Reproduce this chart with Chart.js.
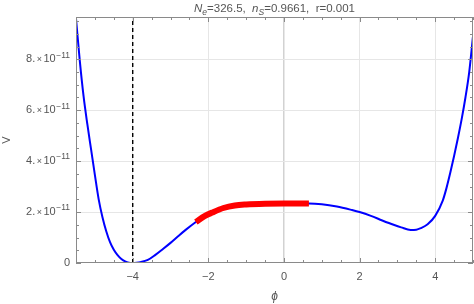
<!DOCTYPE html>
<html>
<head>
<meta charset="utf-8">
<script src="https://cdn.jsdelivr.net/npm/chart.js@4"></script>
<style>
  html, body { margin: 0; padding: 0; background: #fff; }
  #wrap { width: 474px; height: 304px; }
</style>
</head>
<body>
<div id="wrap"><canvas id="c"></canvas></div>
<script>
// ─── DATA (V in units of 1e-11) ─────────────────────────────────────────
const phi = [-5.5, -5.4, -5.3, -5.2, -5.1, -5.0, -4.9, -4.8, -4.7, -4.6, -4.5, -4.4, -4.3, -4.2, -4.1, -4.0,
             -3.9, -3.8, -3.6, -3.4, -3.2, -3.0, -2.8, -2.6, -2.33, -2.1, -1.9, -1.6, -1.3, -1.0, -0.5, 0, 0.66,
             1.0, 1.4, 1.8, 2.0, 2.3, 2.6, 2.9, 3.1, 3.35, 3.5, 3.62, 3.8, 4.0, 4.2, 4.3, 4.4, 4.5, 4.6, 4.7,
             4.8, 4.9, 5.0];
const pot = [9.6, 7.95, 6.55, 5.45, 4.45, 3.45, 2.5, 1.8, 1.25, 0.82, 0.52, 0.31, 0.16, 0.06, 0.01, 0,
             0.008, 0.03, 0.12, 0.32, 0.55, 0.79, 1.05, 1.3, 1.61, 1.84, 1.98, 2.16, 2.26, 2.30, 2.33, 2.34, 2.34,
             2.31, 2.22, 2.08, 2.0, 1.85, 1.67, 1.5, 1.4, 1.3, 1.31, 1.37, 1.52, 1.85, 2.45, 2.95, 3.55, 4.2, 4.9, 5.65,
             6.5, 7.5, 8.9];

// inflationary stretch (red)
const phiInfl = [-2.33, -2.1, -1.9, -1.6, -1.3, -1.0, -0.5, 0, 0.66];
const potInfl = [1.61, 1.84, 1.98, 2.16, 2.26, 2.30, 2.33, 2.34, 2.34];

// vacuum marker (dashed)
const phiVac = [-4, -4];
const potVac = [0, 9.66];

const xRange = [-5.5, 5];
const yRange = [0, 9.66];
const xMajor = [-4, -2, 0, 2, 4];
const yMajor = [0, 2, 4, 6, 8];
const yExp = "\u221211";

const titleParts = [
  { t: "N", it: true }, { t: "e", it: true, sub: true }, { t: "=326.5,  " },
  { t: "n", it: true }, { t: "S", it: true, sub: true }, { t: "=0.9661,  r=0.001" }
];

const FONT = "'Liberation Sans', Arial, sans-serif";
const GRAY = "#555";

const pts = (xs, ys) => xs.map((x, i) => ({ x, y: ys[i] }));

// ─── PLUGINS ────────────────────────────────────────────────────────────
const frameTicks = {
  id: "frameTicks",
  afterDraw(chart) {
    const { ctx, chartArea: a, scales: { x, y } } = chart;
    ctx.save();
    ctx.strokeStyle = "#8a8a8a";
    ctx.lineWidth = 1;
    ctx.beginPath();
    x.ticks.forEach(t => {
      const px = Math.round(x.getPixelForValue(t.value)) + 0.5;
      const L = xMajor.includes(t.value) ? 5 : 3;
      ctx.moveTo(px, a.bottom); ctx.lineTo(px, a.bottom - L);
      ctx.moveTo(px, a.top);    ctx.lineTo(px, a.top + L);
    });
    y.ticks.forEach(t => {
      const py = Math.round(y.getPixelForValue(t.value)) + 0.5;
      const L = yMajor.includes(t.value) ? 5 : 3;
      ctx.moveTo(a.left, py);  ctx.lineTo(a.left + L, py);
      ctx.moveTo(a.right, py); ctx.lineTo(a.right - L, py);
    });
    ctx.stroke();
    ctx.strokeRect(a.left + 0.5, a.top + 0.5, a.width - 1, a.height - 1);
    ctx.restore();
  }
};

// y tick labels in the "2.×10^-11" style, right-aligned against the frame
const yLabels = {
  id: "yLabels",
  afterDraw(chart) {
    const { ctx, chartArea: a, scales: { y } } = chart;
    ctx.save();
    ctx.fillStyle = GRAY;
    ctx.textBaseline = "middle";
    ctx.textAlign = "right";
    yMajor.forEach(v => {
      const py = y.getPixelForValue(v);
      let right = a.left - 6;
      if (v === 0) {
        ctx.font = `11px ${FONT}`;
        ctx.fillText("0", right, py);
        return;
      }
      ctx.font = `8.5px ${FONT}`;
      ctx.fillText(yExp, right, py - 4);
      right -= ctx.measureText(yExp).width + 0.5;
      ctx.font = `11px ${FONT}`;
      ctx.fillText("10", right, py);
      right -= ctx.measureText("10").width + 1.5;
      ctx.font = `9px ${FONT}`;
      ctx.fillText("×", right, py + 0.5);
      right -= ctx.measureText("×").width + 1.5;
      ctx.font = `11px ${FONT}`;
      ctx.fillText(v + ".", right, py);
    });
    ctx.restore();
  }
};

const richTitle = {
  id: "richTitle",
  afterDraw(chart) {
    const { ctx, chartArea: a } = chart;
    ctx.save();
    ctx.fillStyle = GRAY;
    ctx.textBaseline = "alphabetic";
    const fontOf = p => `${p.it ? "italic " : ""}${p.sub ? 8.5 : 11.5}px ${FONT}`;
    let w = 0;
    titleParts.forEach(p => { ctx.font = fontOf(p); w += ctx.measureText(p.t).width; });
    let cx = (a.left + a.right) / 2 - w / 2;
    const base = 12;
    titleParts.forEach(p => {
      ctx.font = fontOf(p);
      ctx.fillText(p.t, cx, base + (p.sub ? 3 : 0));
      cx += ctx.measureText(p.t).width;
    });
    ctx.restore();
  }
};

// ─── CHART ──────────────────────────────────────────────────────────────
new Chart(document.getElementById("c"), {
  type: "line",
  data: {
    datasets: [
      {
        data: pts(phiInfl, potInfl),
        borderColor: "#ff0000",
        borderWidth: 6,
        borderCapStyle: "butt",
        pointRadius: 0,
        cubicInterpolationMode: "monotone",
        order: 0
      },
      {
        data: pts(phi, pot),
        borderColor: "#0000ff",
        borderWidth: 2,
        pointRadius: 0,
        cubicInterpolationMode: "monotone",
        order: 1
      },
      {
        data: pts(phiVac, potVac),
        borderColor: "#000",
        borderWidth: 1.4,
        borderDash: [4, 3],
        pointRadius: 0,
        order: 2
      }
    ]
  },
  options: {
    responsive: true,
    maintainAspectRatio: false,
    animation: false,
    layout: { padding: { top: 17, right: 1, left: 0, bottom: 0 } },
    plugins: { legend: { display: false }, tooltip: { enabled: false }, title: { display: false } },
    scales: {
      x: {
        type: "linear",
        min: xRange[0], max: xRange[1],
        afterFit: s => { s.height = 41; s.paddingLeft = 0; s.paddingRight = 0; },
        border: { display: false },
        grid: {
          drawTicks: false,
          color: c => c.tick.value === 0 ? "#d2d2d2" : (xMajor.includes(c.tick.value) ? "#e6e6e6" : "transparent"),
          lineWidth: c => c.tick.value === 0 ? 1.5 : 1
        },
        ticks: {
          stepSize: 0.5,
          includeBounds: false,
          autoSkip: false,
          maxRotation: 0,
          padding: 7,
          color: GRAY,
          font: { family: FONT, size: 11 },
          callback: v => xMajor.includes(v) ? String(v).replace("-", "\u2212") : ""
        },
        title: {
          display: true, text: "ϕ", color: GRAY,
          font: { family: FONT, size: 12, style: "italic" },
          padding: { top: 0, bottom: 0 }
        }
      },
      y: {
        min: yRange[0], max: yRange[1],
        afterFit: s => { s.width = 76; s.paddingTop = 0; s.paddingBottom = 0; },
        border: { display: false },
        grid: {
          drawTicks: false,
          color: c => (yMajor.includes(c.tick.value) && c.tick.value !== 0) ? "#e6e6e6" : "transparent"
        },
        ticks: {
          stepSize: 0.5,
          includeBounds: false,
          autoSkip: false,
          display: false
        },
        title: {
          display: true, text: "V", color: GRAY,
          font: { family: FONT, size: 11 },
          padding: { top: 0, bottom: 1 }
        }
      }
    }
  },
  plugins: [frameTicks, yLabels, richTitle]
});
</script>
</body>
</html>
